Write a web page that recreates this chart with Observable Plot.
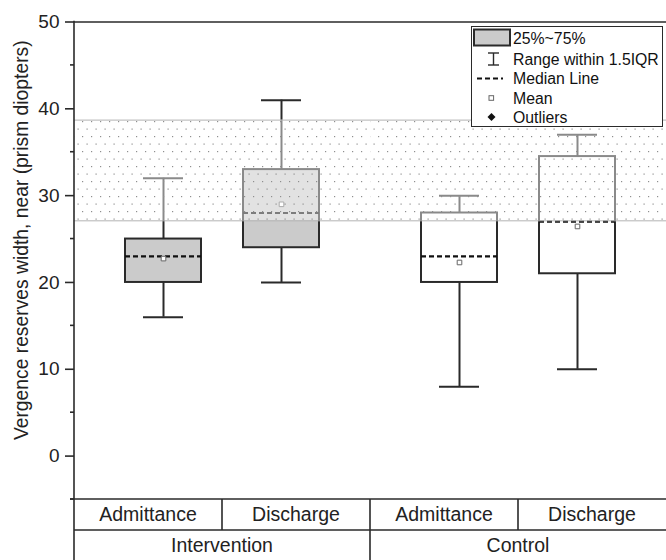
<!DOCTYPE html>
<html><head><meta charset="utf-8">
<script src="https://cdn.jsdelivr.net/npm/d3@7"></script>
<script src="https://cdn.jsdelivr.net/npm/@observablehq/plot@0.6"></script>
<style>
html,body{margin:0;padding:0;background:#fff;}
#chart{position:relative;width:666px;height:560px;overflow:hidden;}
</style></head><body><div id="chart"></div>
<script>
// ---- data ----
const groups = ["Intervention", "Control"];
const times = ["Admittance", "Discharge"];
const whiskerLow  = [16, 20, 8, 10];
const q1          = [20, 24, 20, 21];
const median      = [23, 28, 23, 27];
const q3          = [25, 33, 28, 34.5];
const whiskerHigh = [32, 41, 30, 37];
const mean        = [22.75, 29.0, 22.3, 26.45];
const normalRange = [27.1, 38.7];
const yTicks = [0, 10, 20, 30, 40, 50];
const yMinorTicks = [-5, 5, 15, 25, 35, 45];
const boxFills = ["#cbcbcb", "#ffffff"];
const legendLabels = ["25%~75%", "Range within 1.5IQR", "Median Line", "Mean", "Outliers"];
const yLabel = "Vergence reserves width, near (prism diopters)";

const rows = [];
groups.forEach((g, gi) => times.forEach((t, ti) => {
  const i = gi * 2 + ti;
  rows.push({group: g, time: t, low: whiskerLow[i], q1: q1[i], median: median[i], q3: q3[i], high: whiskerHigh[i], mean: mean[i]});
}));

const ink = "#2a2a2a";
const FONT = "'Liberation Sans', Arial, sans-serif";
const W = 666, H = 560, ML = 74, MT = 21.5, MB = 61;

const plot = Plot.plot({
  width: W, height: H,
  marginTop: MT, marginBottom: MB, marginLeft: ML, marginRight: 0,
  style: {fontFamily: FONT, fontSize: "19px", color: "#222", background: "#fff", overflow: "visible"},
  facet: {data: rows, x: "group"},
  fx: {domain: groups, padding: 0, axis: null},
  x: {domain: times, paddingInner: 0.36, paddingOuter: 0.43, axis: null},
  y: {domain: [-5, 50], ticks: yTicks, tickSize: 9, tickPadding: 6, label: null},
  color: {domain: groups, range: boxFills},
  marks: [
    Plot.ruleX(rows, {x: "time", y1: "q3", y2: "high", stroke: ink, strokeWidth: 2}),
    Plot.ruleX(rows, {x: "time", y1: "low", y2: "q1", stroke: ink, strokeWidth: 2}),
    Plot.tickY(rows, {x: "time", y: "high", insetLeft: 18, insetRight: 18, stroke: ink, strokeWidth: 2}),
    Plot.tickY(rows, {x: "time", y: "low", insetLeft: 18, insetRight: 18, stroke: ink, strokeWidth: 2}),
    Plot.barY(rows, {x: "time", y1: "q1", y2: "q3", fill: "group", stroke: ink, strokeWidth: 2}),
    Plot.tickY(rows, {x: "time", y: "median", stroke: "#111", strokeWidth: 2.2, strokeDasharray: "5,3"}),
    Plot.dot(rows, {x: "time", y: "mean", symbol: "square", r: 2.6, stroke: "#666", fill: "#fff", strokeWidth: 1}),
    Plot.rect([normalRange], {y1: d => d[0], y2: d => d[1], fill: "#fff", fillOpacity: 0.45}),
    Plot.rect([normalRange], {y1: d => d[0], y2: d => d[1], fill: "url(#dots)"}),
    Plot.ruleY(normalRange, {stroke: "#b3b3b3", strokeWidth: 1}),
    Plot.ruleY([50], {stroke: ink, strokeWidth: 1.6})
  ]
});
document.getElementById("chart").appendChild(plot);

const svg = d3.select(plot);
// dotted pattern
const defs = svg.insert("defs", ":first-child");
const pat = defs.append("pattern").attr("id", "dots").attr("patternUnits", "userSpaceOnUse")
  .attr("width", 9).attr("height", 15);
pat.append("rect").attr("x", 1).attr("y", 1).attr("width", 1.2).attr("height", 1.2).attr("fill", "#8f8f8f");
pat.append("rect").attr("x", 5.5).attr("y", 8.5).attr("width", 1.2).attr("height", 1.2).attr("fill", "#8f8f8f");

// scales
const yS = plot.scale("y");
const fxS = plot.scale("fx");
let fxBand, fxStart;
if (fxS && fxS.apply) { fxStart = g => fxS.apply(g); fxBand = fxS.bandwidth; }
if (!fxBand) { const b = d3.scaleBand(groups, [ML, W]).padding(0); fxStart = g => b(g); fxBand = b.bandwidth(); }

// axis tick text styling
svg.selectAll("[aria-label='y-axis'] text, [aria-label='y-axis tick label'] text").attr("font-size", 19).attr("fill", "#222");
svg.selectAll("[aria-label='y-axis'] path, [aria-label='y-axis'] line, [aria-label='y-axis tick'] path").attr("stroke", ink).attr("stroke-width", 1.6);

const yBottom = yS.apply(-5);
const rowH = 31;
const g = svg.append("g").attr("stroke", ink).attr("stroke-width", 1.6);
// minor ticks
yMinorTicks.forEach(v => g.append("line").attr("x1", ML - 4).attr("x2", ML).attr("y1", yS.apply(v)).attr("y2", yS.apply(v)));
// bottom axis line and table rows
g.append("line").attr("x1", ML - 4).attr("x2", W).attr("y1", yBottom).attr("y2", yBottom);
g.append("line").attr("x1", ML).attr("x2", W).attr("y1", yBottom + rowH).attr("y2", yBottom + rowH);
// left axis line
g.append("line").attr("x1", ML).attr("x2", ML).attr("y1", MT - 0.8).attr("y2", H);
groups.forEach((gr, gi) => {
  const x0 = fxStart(gr);
  if (gi > 0) g.append("line").attr("x1", x0).attr("x2", x0).attr("y1", yBottom).attr("y2", H);
  g.append("line").attr("x1", x0 + fxBand / 2).attr("x2", x0 + fxBand / 2).attr("y1", yBottom).attr("y2", yBottom + rowH);
});
const tg = svg.append("g").attr("font-family", FONT).attr("font-size", 19.5).attr("fill", "#222").attr("text-anchor", "middle");
groups.forEach(gr => {
  const x0 = fxStart(gr);
  times.forEach((t, ti) => tg.append("text").attr("x", x0 + fxBand / 4 + ti * fxBand / 2).attr("y", yBottom + rowH / 2).attr("dy", "0.35em").text(t));
  tg.append("text").attr("x", x0 + fxBand / 2).attr("y", yBottom + rowH + (H - yBottom - rowH) / 2).attr("dy", "0.35em").text(gr);
});
// y label
tg.append("text").attr("transform", `translate(21,${(MT + yBottom) / 2 - 20}) rotate(-90)`).attr("dy", "0.35em").attr("font-size", 19.3).text(yLabel);

// legend
const lg = svg.append("g").attr("font-family", FONT).attr("font-size", 15.8).attr("fill", "#111").attr("text-anchor", "start");
lg.append("rect").attr("x", 471.5).attr("y", 26.5).attr("width", 191).attr("height", 100).attr("fill", "#fff").attr("stroke", ink).attr("stroke-width", 1);
const rowY = [38, 59, 78.5, 98, 117];
lg.append("rect").attr("x", 474).attr("y", 29.5).attr("width", 36).attr("height", 16).attr("fill", boxFills[0]).attr("stroke", ink).attr("stroke-width", 2);
const wk = lg.append("g").attr("stroke", ink).attr("stroke-width", 1.4);
wk.append("line").attr("x1", 493.5).attr("x2", 493.5).attr("y1", 53).attr("y2", 65);
wk.append("line").attr("x1", 488).attr("x2", 499).attr("y1", 53).attr("y2", 53);
wk.append("line").attr("x1", 488).attr("x2", 499).attr("y1", 65).attr("y2", 65);
lg.append("line").attr("x1", 477).attr("x2", 503).attr("y1", rowY[2]).attr("y2", rowY[2]).attr("stroke", "#111").attr("stroke-width", 2.2).attr("stroke-dasharray", "5,3");
lg.append("rect").attr("x", 489).attr("y", rowY[3] - 2.3).attr("width", 4.6).attr("height", 4.6).attr("fill", "#fff").attr("stroke", "#666").attr("stroke-width", 1);
lg.append("path").attr("d", `M491.5,${rowY[4] - 4}L495.5,${rowY[4]}L491.5,${rowY[4] + 4}L487.5,${rowY[4]}Z`).attr("fill", "#111");
legendLabels.forEach((l, i) => lg.append("text").attr("x", 513).attr("y", rowY[i]).attr("dy", "0.35em").attr("text-anchor", "start").text(l));
</script></body></html>
